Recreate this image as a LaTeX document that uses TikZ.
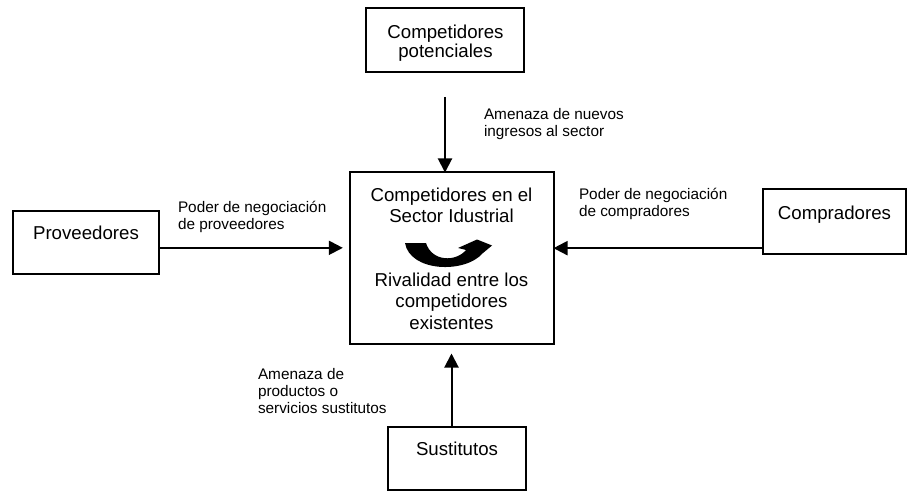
\documentclass[tikz,border=0pt]{standalone}
\usepackage{fontspec}
\setmainfont{Liberation Sans}
\usetikzlibrary{arrows.meta}

\newcommand{\boxfont}{\fontsize{14}{14.6}\selectfont}
\newcommand{\notefont}{\fontsize{11.5}{12.6}\selectfont}

\begin{document}
\begin{tikzpicture}
      [
        x = 0.75pt, y = -0.75pt,
        line width = 1.5pt,
        ForceBox/.style={draw, inner sep=0pt, outer sep=0pt, font=\boxfont},
        ForceNote/.style={inner sep=0pt, anchor=base west, align=left, font=\notefont},
        RivalText/.style={inner sep=0pt, anchor=base, align=center, font=\boxfont},
        Force/.style={-{Triangle[length=10.5pt, width=10.5pt]}},
      ]
      \useasboundingbox (0,0) rectangle (908,492);

      % the five forces
      \node [ForceBox, minimum width=204*0.75pt, minimum height=171*0.75pt] (rivals) at (451.5,258) {};
      \node [ForceBox, minimum width=158*0.75pt, minimum height=64*0.75pt] (pot) at (445,40) {};
      \node [ForceBox, minimum width=146*0.75pt, text height=28.5*0.75pt, text depth=34.5*0.75pt] (prov) at (86,242.5) {Proveedores};
      \node [ForceBox, minimum width=143*0.75pt, text height=30.3*0.75pt, text depth=34.7*0.75pt] (comp) at (834.5,221.5) {Compradores};
      \node [ForceBox, minimum width=138*0.75pt, text height=28.6*0.75pt, text depth=34.4*0.75pt] (sust) at (457,458.5) {Sustitutos};

      % texts inside the boxes (base = last line)
      \node [RivalText] (pottext) at (445.5,57.5) {Competidores\\potenciales};
      \node [RivalText] (sector) at (451.5,222.7) {Competidores en el\\[1.4pt]Sector Idustrial};
      \node [RivalText] (rivalidad) at (451.5,329) {Rivalidad entre los\\[1.4pt]competidores\\[1.4pt]existentes};

      % the swirl between competitors
      \fill (405,243) .. controls (410,272) and (465,274) .. (483,253)
        -- (492,245.5) -- (477,239.5) -- (458,248) -- (466,250)
        .. controls (456,262) and (432,262) .. (426,243) -- cycle;

      % arrows
      \draw [Force, shorten <=18.75pt] (pot.south) -- (pot.south |- rivals.north);
      \draw [Force, shorten >=5pt] ([yshift=-4pt]prov.east) -- ([yshift=-4pt]prov.east -| rivals.west);
      \draw [Force] ([yshift=-20pt]comp.west) -- ([yshift=-20pt]comp.west -| rivals.east);
      \draw [Force, shorten >=7.5pt] (sust.north -| rivals.south) -- (rivals.south);

      % labels of the forces
      \node [ForceNote] (lblnuevos) at (483,136.5) {Amenaza de nuevos\\ingresos al sector};
      \node [ForceNote] (lblprov) at (177,229.5) {Poder de negociación\\de proveedores};
      \node [ForceNote] (lblcomp) at (578,216) {Poder de negociación\\de compradores};
      \node [ForceNote] (lblsust) at (257,413) {Amenaza de\\productos o\\servicios sustitutos};
    \end{tikzpicture}
\end{document}
